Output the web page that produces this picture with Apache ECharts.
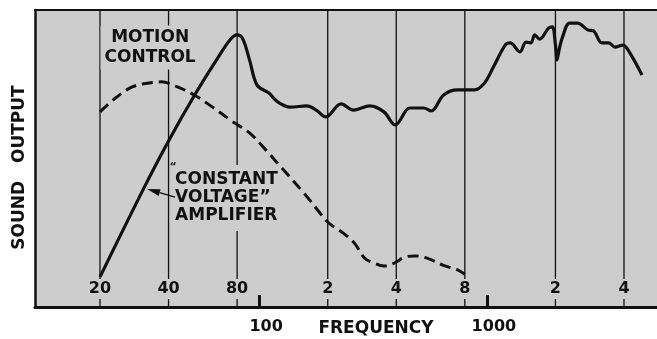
<!DOCTYPE html>
<html>
<head>
<meta charset="utf-8">
<script src="https://cdn.jsdelivr.net/npm/echarts@6/dist/echarts.min.js"></script>
<style>
  html, body { margin: 0; padding: 0; background: #ffffff; }
  #chart { width: 657px; height: 339px; }
</style>
</head>
<body>
<div id="chart"></div>
<script>
// Sound output vs. frequency: speaker with motion control, and the same
// speaker driven by a "constant voltage" amplifier.

// Motion-control response (solid curve)
const motionFreq = [20, 31.2, 40, 52.4, 65.0, 74.4, 80, 84.8, 90.7, 97.9, 110, 121, 137, 162, 178, 196,
  229, 259, 306, 353, 396, 460, 528, 569, 646, 743, 884, 976, 1068, 1203, 1265, 1397, 1484, 1559,
  1623, 1705, 1865, 1938, 2000, 2031, 2083, 2148, 2307, 2502, 2772, 2946, 3197, 3433, 3649, 3960,
  4250, 4799];
const motionLevel = [10.1, 40.1, 55.9, 71.7, 83.2, 89.9, 91.6, 90.2, 83.2, 74.7, 72.1, 69.0, 67.3, 67.7, 66.3, 64.0,
  68.4, 66.3, 67.7, 65.7, 61.3, 67.0, 67.0, 66.0, 71.4, 73.1, 73.1, 75.4, 80.8, 88.2, 88.9, 85.9, 89.2, 88.9,
  91.6, 90.2, 93.9, 94.3, 88.2, 83.2, 87.2, 90.9, 95.6, 95.6, 93.3, 92.9, 88.9, 88.9, 87.5, 88.2,
  85.5, 78.1];

// "Constant voltage" amplifier response (dashed curve)
const ampFreq = [20, 23.7, 27.7, 32.8, 37.3, 43.0, 51.8, 62.4, 76.8, 90.7, 106.9, 124.7, 157.1, 183.4,
  202, 234, 262, 290, 319, 353, 392, 436, 485, 557, 640, 743, 800];
const ampLevel = [65.7, 70.7, 74.1, 75.4, 75.8, 74.4, 71.4, 67.3, 62.3, 58.6, 52.9, 47.1, 38.4, 32.0,
  28.3, 24.9, 21.5, 16.5, 14.8, 13.8, 14.8, 16.8, 17.2, 16.2, 14.1, 12.5, 11.0];

// Frequency grid (octave lines) and their printed labels
const gridFreqs = [20, 40, 80, 200, 400, 800, 2000, 4000];
const gridLabels = ['20', '40', '80', '2', '4', '8', '2', '4'];
// Decade ticks below the axis
const decadeFreqs = [100, 1000];
const decadeLabels = ['100', '1000'];

const FONT = 'DejaVu Sans';
const PAPER = '#cdcdcd';
const INK = '#111111';
const lg = Math.log10;
const X_MIN = lg(10.365);
const X_MAX = lg(5585);

function pairs(fs, vs) { return fs.map((f, i) => [lg(f), vs[i]]); }
function labelFor(freqs, labels) {
  return function (v) {
    let best = 0;
    freqs.forEach((f, i) => { if (Math.abs(lg(f) - v) < Math.abs(lg(freqs[best]) - v)) best = i; });
    return labels[best];
  };
}

const chart = echarts.init(document.getElementById('chart'), null, { renderer: 'canvas' });

chart.setOption({
  animation: false,
  backgroundColor: '#ffffff',
  grid: { left: 35, right: 0, top: 10, bottom: 32, show: true, backgroundColor: PAPER, borderWidth: 0 },
  xAxis: [
    {
      type: 'value', min: X_MIN, max: X_MAX, position: 'bottom', z: 6,
      axisLine: { show: true, onZero: false, lineStyle: { color: INK, width: 3 } },
      axisTick: { show: true, inside: true, length: 12, customValues: decadeFreqs.map(lg), lineStyle: { color: INK, width: 3 } },
      axisLabel: {
        show: true, customValues: decadeFreqs.map(lg), formatter: labelFor(decadeFreqs, decadeLabels),
        margin: 12, color: INK, fontFamily: FONT, fontWeight: 'bold', fontSize: 16, padding: [0, 0, 0, 14]
      },
      splitLine: { show: false }
    },
    {
      type: 'value', min: X_MIN, max: X_MAX, position: 'bottom', z: 3,
      axisLine: { show: false }, axisTick: { show: false },
      axisLabel: {
        show: true, inside: true, customValues: gridFreqs.map(lg), formatter: labelFor(gridFreqs, gridLabels),
        margin: 8, color: INK, fontFamily: FONT, fontWeight: 'bold', fontSize: 16,
        backgroundColor: PAPER, padding: [2, 3]
      },
      splitLine: { show: false }
    },
    {
      type: 'value', min: X_MIN, max: X_MAX, position: 'top', z: 6,
      axisLine: { show: true, onZero: false, lineStyle: { color: INK, width: 2 } },
      axisTick: { show: false }, axisLabel: { show: false }, splitLine: { show: false }
    }
  ],
  yAxis: {
    type: 'value', min: 0, max: 100, z: 6,
    axisLine: { show: true, onZero: false, lineStyle: { color: INK, width: 2.5 } },
    axisTick: { show: false }, axisLabel: { show: false }, splitLine: { show: false }
  },
  series: [
    {
      type: 'custom', name: 'octave lines', z: 1, silent: true, xAxisIndex: 0,
      data: gridFreqs.map(f => [lg(f), 0]), encode: { x: 0, y: 1 },
      renderItem: function (params, api) {
        const x = api.value(0);
        const top = api.coord([x, 100]);
        const bot = api.coord([x, 0]);
        return {
          type: 'line',
          shape: { x1: top[0], y1: top[1], x2: bot[0], y2: bot[1] },
          style: { stroke: INK, lineWidth: 1.3 }
        };
      }
    },
    {
      type: 'line', name: 'Motion control', z: 5, data: pairs(motionFreq, motionLevel),
      smooth: 0.35, symbol: 'none', lineStyle: { color: INK, width: 3.2 }
    },
    {
      type: 'line', name: '"Constant voltage" amplifier', z: 5, data: pairs(ampFreq, ampLevel),
      smooth: 0.35, symbol: 'none', lineStyle: { color: INK, width: 3, type: [11, 6] }
    }
  ]
});

// Annotations anchored in data space (frequency, level)
const motionLabelAt = [33.2, 87.4];
const ampLabelAt = [42.3, 36.7];
const arrowTail = [42.7, 37.0];
const arrowTip = [32.2, 39.7];

const P = (pt) => chart.convertToPixel({ gridIndex: 0 }, [lg(pt[0]), pt[1]]);
const m = P(motionLabelAt);
const a = P(ampLabelAt);
const t0 = P(arrowTail);
const t1 = P(arrowTip);
const dx = t1[0] - t0[0], dy = t1[1] - t0[1];
const len = Math.hypot(dx, dy);
const ux = dx / len, uy = dy / len;
const headLen = 13, headHalf = 3.5;
const base = [t1[0] - ux * headLen, t1[1] - uy * headLen];

const textStyle = { fill: INK, fontFamily: FONT, fontWeight: 'bold', fontSize: 17 };

chart.setOption({
  graphic: [
    {
      type: 'text', z: 3, x: m[0], y: m[1],
      style: Object.assign({}, textStyle, {
        text: 'MOTION\nCONTROL', align: 'center', verticalAlign: 'middle', lineHeight: 20,
        backgroundColor: PAPER, padding: [2, 4]
      })
    },
    {
      type: 'text', z: 3, x: a[0], y: a[1],
      style: Object.assign({}, textStyle, {
        text: 'CONSTANT\nVOLTAGE\u201D\nAMPLIFIER', align: 'left', verticalAlign: 'middle', lineHeight: 18,
        backgroundColor: PAPER, padding: [6, 3, 6, 1]
      })
    },
    {
      type: 'text', z: 4, x: a[0] - 1, y: a[1] - 31,
      style: Object.assign({}, textStyle, { text: '\u201C', fontSize: 11, align: 'center', verticalAlign: 'middle' })
    },
    {
      type: 'polyline', z: 6,
      shape: { points: [[t0[0], t0[1]], base] },
      style: { stroke: INK, lineWidth: 1.4, fill: null }
    },
    {
      type: 'polygon', z: 6,
      shape: {
        points: [
          [t1[0], t1[1]],
          [base[0] - uy * headHalf, base[1] + ux * headHalf],
          [base[0] + uy * headHalf, base[1] - ux * headHalf]
        ]
      },
      style: { fill: INK }
    },
    {
      type: 'text', z: 3, x: 20, y: 167.5, rotation: Math.PI / 2,
      style: Object.assign({}, textStyle, { text: 'SOUND   OUTPUT', align: 'center', verticalAlign: 'middle' })
    },
    {
      type: 'text', z: 3, x: 376, y: 329,
      style: Object.assign({}, textStyle, { text: 'FREQUENCY', align: 'center', verticalAlign: 'middle' })
    }
  ]
});
</script>
</body>
</html>
